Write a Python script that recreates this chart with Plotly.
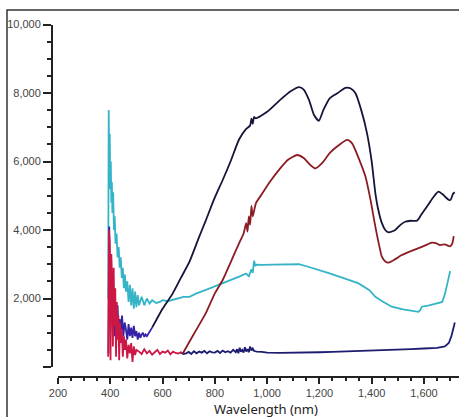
import plotly.graph_objects as go

W, H = 459, 417

# ---------------- data ----------------
top_x = [393, 396, 399, 402, 405, 408, 411, 414, 417, 420, 424, 428, 432, 436, 440, 445, 450, 455,
         460, 465, 470, 475, 480, 485, 490, 495, 500, 505, 510, 515, 520, 525, 530, 535, 540, 560,
         576, 600, 639, 670, 703, 740, 766, 800, 830, 860, 893, 920, 935, 940, 945, 950, 957, 1000,
         1050, 1090, 1122, 1140, 1160, 1180, 1198, 1215, 1240, 1270, 1300, 1320, 1338, 1360, 1382,
         1400, 1414, 1425, 1439, 1452, 1465, 1490, 1510, 1528, 1550, 1573, 1590, 1611, 1635, 1655,
         1670, 1681, 1695, 1702, 1712, 1718]
top_y = [400, 4100, 2500, 3200, 1500, 2600, 1200, 2000, 900, 1600, 1100, 1800, 800, 1400, 1000,
         1500, 900, 1300, 1100, 800, 1250, 900, 1150, 850, 1200, 900, 1050, 800, 1000, 850, 950,
         1000, 880, 950, 900, 1150, 1372, 1700, 2150, 2600, 3075, 3800, 4290, 4950, 5460, 6000,
         6650, 6950, 7050, 7250, 7100, 7300, 7260, 7450, 7800, 8050, 8170, 8100, 7800, 7350, 7190,
         7500, 7850, 8000, 8150, 8130, 7990, 7500, 6830, 6000, 5080, 4600, 4200, 4000, 3930, 4000,
         4150, 4240, 4270, 4270, 4450, 4680, 4950, 5120, 5050, 4970, 4880, 4880, 5070, 5100]

red_x = [392, 395, 398, 401, 404, 407, 410, 413, 416, 419, 422, 425, 428, 431, 434, 437, 440, 444,
         448, 452, 456, 460, 465, 470, 475, 480, 485, 490, 495, 500, 510, 520, 530, 540, 550, 560,
         570, 580, 590, 600, 610, 620, 630, 640, 650, 660, 670, 678, 700, 730, 766, 800, 830, 860,
         893, 910, 920, 925, 930, 935, 940, 945, 957, 980, 1010, 1050, 1080, 1115, 1140, 1165, 1185,
         1210, 1240, 1270, 1306, 1325, 1350, 1376, 1395, 1414, 1430, 1439, 1452, 1465, 1490, 1515,
         1545, 1579, 1605, 1630, 1645, 1662, 1680, 1700, 1708, 1714]
red_y = [300, 4000, 3600, 200, 3300, 2500, 600, 2900, 1200, 2300, 300, 1900, 800, 1500, 200, 1300,
         700, 1100, 300, 900, 500, 800, 250, 650, 400, 700, 150, 600, 350, 500, 450, 380, 520, 400,
         470, 360, 430, 500, 380, 450, 420, 480, 370, 450, 410, 390, 430, 400, 700, 1100, 1580, 2150,
         2540, 3050, 3620, 3900, 4200, 3950, 4400, 4150, 4700, 4400, 4780, 5050, 5400, 5800, 6050,
         6190, 6100, 5900, 5800, 5950, 6250, 6450, 6630, 6530, 6100, 5560, 4900, 4100, 3500, 3220,
         3080, 3050, 3150, 3270, 3370, 3470, 3550, 3630, 3620, 3560, 3580, 3520, 3600, 3820]

cyan_x = [392, 394, 396, 398, 400, 402, 404, 406, 408, 411, 414, 417, 420, 424, 428, 432, 436, 440,
          444, 448, 452, 456, 460, 465, 470, 475, 480, 485, 490, 495, 500, 505, 510, 520, 530, 540,
          550, 560, 576, 590, 600, 620, 639, 660, 680, 703, 730, 766, 800, 830, 860, 893, 919, 930,
          940, 945, 950, 955, 960, 982, 1020, 1060, 1100, 1122, 1160, 1200, 1236, 1290, 1350, 1390,
          1414, 1445, 1477, 1520, 1550, 1579, 1585, 1592, 1620, 1655, 1670, 1681, 1690, 1696, 1700]
cyan_y = [2000, 7500, 6000, 6800, 5200, 6000, 4800, 5400, 4500, 5100, 4000, 4400, 3600, 3900, 3200,
          3500, 2900, 3200, 2600, 2900, 2300, 2700, 2200, 2500, 1900, 2400, 1800, 2300, 1700, 2200,
          1750, 2100, 1800, 2050, 1800, 2000, 1850, 1950, 1870, 1900, 1950, 1920, 1960, 2000, 2050,
          2050, 2150, 2250, 2350, 2440, 2550, 2640, 2730, 2650, 2850, 2750, 3100, 2950, 2990, 2980,
          2990, 3000, 3000, 3000, 2920, 2830, 2740, 2600, 2440, 2250, 2050, 1900, 1760, 1680, 1650,
          1610, 1650, 1760, 1800, 1860, 1900, 2150, 2450, 2700, 2800]

bot_x = [670, 680, 690, 700, 710, 720, 730, 740, 750, 760, 770, 780, 790, 800, 810, 820, 830, 840,
         850, 860, 870, 880, 885, 890, 895, 900, 905, 910, 915, 920, 925, 930, 935, 940, 945, 950,
         955, 960, 980, 1000, 1050, 1100, 1150, 1200, 1250, 1300, 1350, 1400, 1450, 1500, 1550,
         1600, 1650, 1680, 1695, 1705, 1712, 1718]
bot_y = [420, 380, 400, 440, 380, 460, 400, 450, 420, 470, 400, 460, 430, 420, 470, 410, 480, 430,
         460, 420, 500, 430, 520, 400, 560, 450, 500, 420, 580, 450, 520, 430, 600, 480, 540, 470,
         460, 450, 440, 420, 410, 410, 420, 430, 440, 450, 470, 480, 500, 510, 520, 540, 560, 600,
         700, 900, 1100, 1300]

x_ticks = [200, 400, 600, 800, 1000, 1200, 1400, 1600]
x_labels = ["200", "400", "600", "800", "1,000", "1,200", "1,400", "1,600"]
y_ticks = [0, 2000, 4000, 6000, 8000, 10000]
y_labels = ["", "2,000", "4,000", "6,000", "8,000", "10,000"]

# split points for colour changes (noisy start vs smooth part)
top_split = top_x.index(560)
red_split = red_x.index(678)

fig = go.Figure()
lw = 1.8
fig.add_trace(go.Scatter(x=bot_x, y=bot_y, mode="lines", line=dict(color="#1c1c70", width=lw)))
fig.add_trace(go.Scatter(x=cyan_x, y=cyan_y, mode="lines", line=dict(color="#34b4c6", width=lw)))
fig.add_trace(go.Scatter(x=top_x[:top_split + 1], y=top_y[:top_split + 1], mode="lines",
                         line=dict(color="#3322a8", width=lw)))
fig.add_trace(go.Scatter(x=top_x[top_split:], y=top_y[top_split:], mode="lines",
                         line=dict(color="#15153a", width=lw, shape="spline", smoothing=0.6)))
fig.add_trace(go.Scatter(x=red_x[:red_split + 1], y=red_y[:red_split + 1], mode="lines",
                         line=dict(color="#cc1744", width=lw)))
fig.add_trace(go.Scatter(x=red_x[red_split:], y=red_y[red_split:], mode="lines",
                         line=dict(color="#8c1c24", width=lw, shape="spline", smoothing=0.6)))

tickfont = dict(family="Liberation Sans", size=11, color="#444444")

fig.update_layout(
    width=W, height=H,
    margin=dict(l=0, r=0, t=0, b=0, pad=0),
    template="none",
    paper_bgcolor="white", plot_bgcolor="white",
    showlegend=False,
    xaxis=dict(
        domain=[58 / W, 1.0], range=[200, 1734], anchor="free", position=(H - 377) / H,
        showgrid=False, zeroline=False, showline=True, linecolor="#222222", linewidth=2,
        tickmode="array", tickvals=x_ticks, ticktext=x_labels,
        ticks="outside", ticklen=6, tickwidth=2, tickcolor="#222222",
        minor=dict(dtick=50, tick0=200, ticks="outside", ticklen=3, tickwidth=1.5, tickcolor="#222222",
                   showgrid=False),
        tickfont=tickfont, automargin=False,
    ),
    yaxis=dict(
        domain=[(H - 367) / H, (H - 24.5) / H], range=[0, 10000], anchor="free", position=52 / W,
        showgrid=False, zeroline=False, showline=True, linecolor="#222222", linewidth=2,
        tickmode="array", tickvals=y_ticks, ticktext=y_labels,
        ticks="outside", ticklen=8, tickwidth=2, tickcolor="#222222",
        minor=dict(dtick=500, tick0=0, ticks="outside", ticklen=4, tickwidth=1.5, tickcolor="#222222",
                   showgrid=False),
        tickfont=tickfont, automargin=False,
    ),
    shapes=[dict(type="rect", xref="paper", yref="paper", x0=7 / W, y0=-0.1, x1=1.1, y1=(H - 10) / H,
                 line=dict(color="#333333", width=1.5))],
    annotations=[dict(text="Wavelength (nm)", xref="paper", yref="paper", x=266 / W, y=(H - 409) / H,
                      xanchor="center", yanchor="middle", showarrow=False,
                      font=dict(family="Noto Sans", size=13, color="#222222"))],
)

fig.write_html(
    "out.html",
    config={"displayModeBar": False},
    post_script="document.body.style.margin='0px';document.body.style.overflow='hidden';",
)
